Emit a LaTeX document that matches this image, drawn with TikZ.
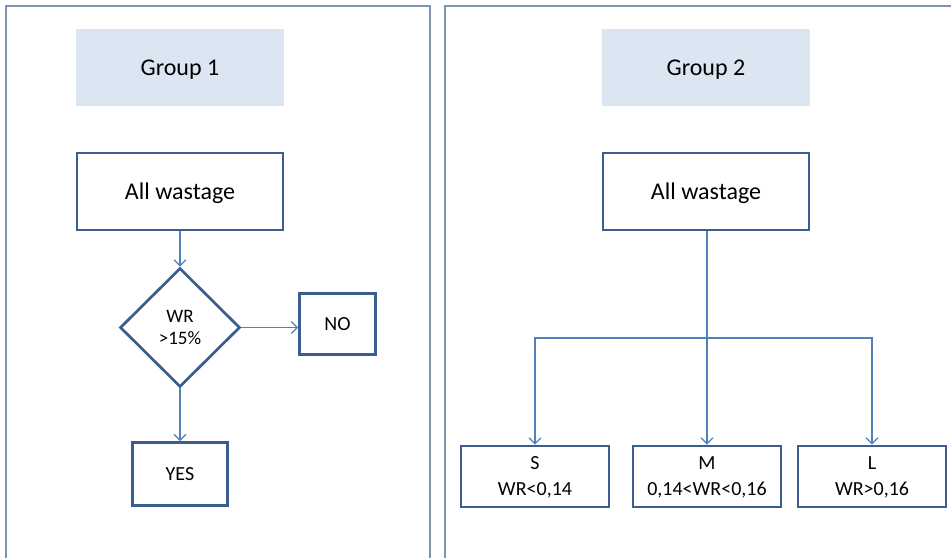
\documentclass[tikz,border=0pt]{standalone}
\usepackage{fontspec}
\setmainfont{Carlito}
\usetikzlibrary{shapes.geometric,arrows.meta}
\definecolor{panel}{HTML}{7F94B2}
\definecolor{hdrfill}{HTML}{DCE6F2}
\definecolor{boxline}{HTML}{3A5F8F}
\definecolor{conn}{HTML}{4F81BD}
\tikzset{
  panelline/.style={draw=panel,line width=1.3pt},
  hdr/.style={fill=hdrfill,inner sep=0pt,minimum width=208pt,minimum height=77pt,text depth=0pt,font=\fontsize{24}{28}\selectfont},
  box/.style={draw=boxline,line width=2.7pt,fill=white,inner sep=0pt,align=center},
  bigbox/.style={box,minimum width=206pt,minimum height=77pt,text depth=0pt,font=\fontsize{24}{28}\selectfont},
  dia/.style={draw=boxline,line width=2.7pt,diamond,inner sep=0pt,minimum width=120pt,minimum height=119pt,align=center,font=\fontsize{19}{22}\selectfont},
  smallbox/.style={box,text depth=0pt,font=\fontsize{20}{24}\selectfont},
  catbox/.style={box,minimum width=148pt,minimum height=61pt,text depth=0pt,font=\fontsize{20}{26}\selectfont},
  arr/.style={draw=conn,line width=1.2pt,-{Straight Barb[length=6pt,width=12pt,line width=1.2pt]}},
  ln/.style={draw=conn,line width=1.2pt}
}
\begin{document}
\begin{tikzpicture}[x=1pt,y=-1pt]
\useasboundingbox (0,0) rectangle (951,558);
\fill[white] (0,0) rectangle (951,558);
% panels
\draw[panelline] (6,558) -- (6,6) -- (430,6) -- (430,558);
\draw[panelline] (445,558) -- (445,6) -- (951,6);
% headers
\node[hdr] (g1) at (180,67.5) {Group 1};
\node[hdr] (g2) at (706,67.5) {Group 2};
% left
\node[bigbox] (lall) at (180,191.5) {All wastage};
\node[dia] (d) at (180,327.5) {WR\\>15\%};
\node[smallbox,minimum width=76pt,minimum height=61pt] (no) at (337.5,324) {NO};
\node[smallbox,minimum width=95pt,minimum height=63pt] (yes) at (180,474) {YES};
\draw[arr] (lall.south) -- (d.north);
\draw[arr] (d.east) -- (d.east -| no.west);
\draw[arr] (d.south) -- (yes.north);
% right
\node[bigbox] (rall) at (706,191.5) {All wastage};
\node[catbox] (s) at (535,476.5) {S\\WR<0,14};
\node[catbox] (m) at (707,476.5) {M\\0,14<WR<0,16};
\node[catbox] (l) at (872,476.5) {L\\WR>0,16};
\coordinate (j) at (707,338);
\draw[arr] (rall.south -| m.north) -- (m.north);
\draw[arr] (j) -| (s.north);
\draw[arr] (j) -| (l.north);
\end{tikzpicture}
\end{document}
